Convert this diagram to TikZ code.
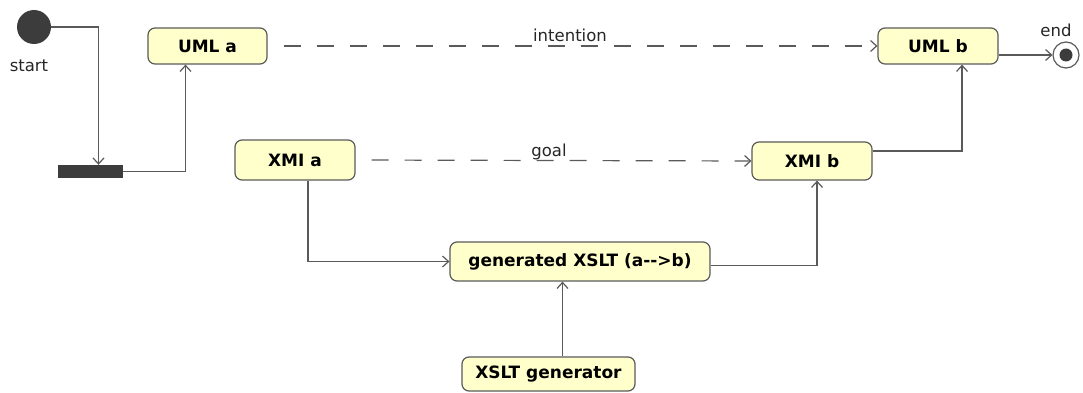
\documentclass[tikz,border=0pt]{standalone}
\usepackage{fontspec}
\setsansfont{DejaVu Sans}
\usetikzlibrary{arrows.meta}

\definecolor{boxfill}{HTML}{FFFFCC}
\definecolor{linegray}{HTML}{5A5A5A}
\definecolor{darkdot}{HTML}{3C3C3C}

\tikzset{
	act/.style={draw=linegray, fill=boxfill, line width=1.2pt, rounded corners=7pt,
		inner sep=0pt, font=\sffamily\bfseries\fontsize{17}{19}\selectfont},
	lbl/.style={inner sep=0pt, font=\sffamily\fontsize{16.5}{18}\selectfont, text=black!85},
	flow/.style={draw=linegray, line width=1.2pt, -{Straight Barb[length=6pt,width=11pt]}},
	goalflow/.style={flow, dash pattern=on 17pt off 16pt, dash phase=17pt},
}

\begin{document}
\begin{tikzpicture}[x=1pt, y=-1pt]
		%%%%% START %%%%%
		\useasboundingbox[fill=white] (0, 0) rectangle (1083, 393);
		
		\node[circle, fill=darkdot, minimum size=34pt, inner sep=0pt] (startnode) at (34, 27) {};
		\node[lbl] (startlbl) at (29, 66) {start};
		\node[fill=darkdot, minimum width=65pt, minimum height=13pt, inner sep=0pt] (bar) at (90.5, 171.5) {};
		
		\node[act, minimum width=119pt, minimum height=36pt] (umla) at (207.5, 46) {UML a};
		\node[act, minimum width=120pt, minimum height=36pt] (umlb) at (938, 46) {UML b};
		\node[act, minimum width=120pt, minimum height=40pt] (xmia) at (295, 160) {XMI a};
		\node[act, minimum width=120pt, minimum height=38pt] (xmib) at (812, 161) {XMI b};
		\node[act, minimum width=260pt, minimum height=39pt] (generated) at (580, 261.5) {generated XSLT (a-{}-{}>b)};
		\node[act, minimum width=173pt, minimum height=34pt] (generator) at (548.5, 374) {XSLT generator};
		
		\node[circle, draw=linegray, fill=white, line width=1.2pt, minimum size=26pt, inner sep=0pt] (endnode) at (1066, 55) {};
		\node[circle, fill=darkdot, minimum size=13pt, inner sep=0pt] (enddot) at (endnode) {};
		\node[lbl] (endlbl) at (1056, 30) {end};
		
		\draw[flow] (startnode.east) -| ([xshift=8]bar.north);
		\draw[flow] (bar.east) -| ([xshift=-22]umla.south);
		
		\draw[goalflow] (umla.east) -- (umlb.west);
		\node[lbl] (intention) at (570, 35) {intention};
		\draw[flow] (umlb.east |- endnode.center) -- (endnode.west);
		
		\draw[goalflow] (xmia.east) -- (xmib.west);
		\node[lbl] (goal) at (549, 152) {goal};
		
		\draw[flow] ([yshift=10]xmib.east) -| ([xshift=24]umlb.south);
		\draw[flow] ([xshift=13]xmia.south) |- (generated.west);
		\draw[flow] ([yshift=-4]generated.east) -| ([xshift=5]xmib.south);
		\draw[flow] ([xshift=14]generator.north) -- ([xshift=14]generator.north |- generated.south);
		
		%%%%% END %%%%%
	\end{tikzpicture}
\end{document}
